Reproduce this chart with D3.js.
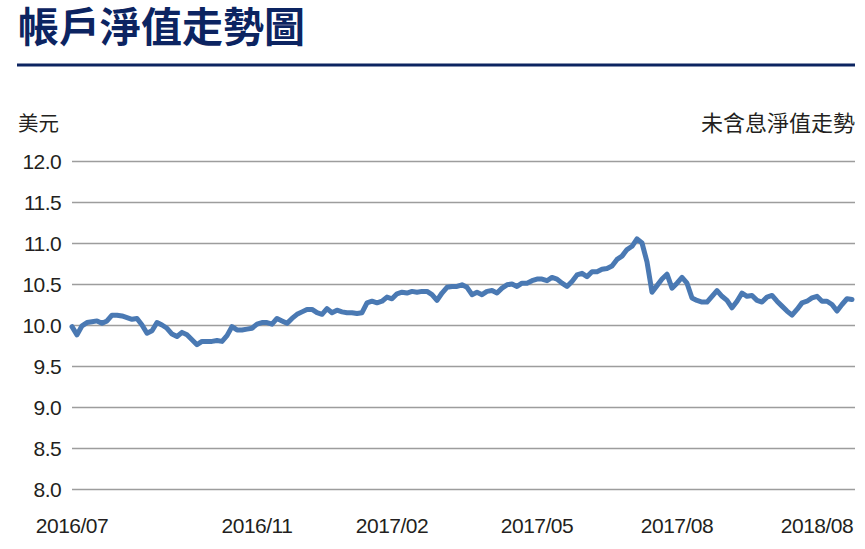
<!DOCTYPE html>
<html><head><meta charset="utf-8">
<script src="https://cdn.jsdelivr.net/npm/d3@7"></script>
<style>
html,body{margin:0;padding:0;background:#fff;}
svg{display:block;}
</style>
</head><body>
<svg id="chart" width="865" height="549"></svg>
<script>
const title = "帳戶淨值走勢圖";
const unitLabel = "美元";
const seriesLabel = "未含息淨值走勢";
const yTicks = [8.0, 8.5, 9.0, 9.5, 10.0, 10.5, 11.0, 11.5, 12.0];
const xLabels = ["2016/07", "2016/11", "2017/02", "2017/05", "2017/08", "2018/08"];
const xLabelIndex = [0, 37, 64, 93, 121, 149];
const navValues = [
 9.98, 9.88, 9.99, 10.03, 10.04, 10.05, 10.02, 10.05, 10.12, 10.12,
 10.11, 10.09, 10.07, 10.08, 10.00, 9.90, 9.93, 10.03, 10.00, 9.96,
 9.89, 9.86, 9.91, 9.88, 9.82, 9.76, 9.80, 9.80, 9.80, 9.81,
 9.80, 9.87, 9.98, 9.94, 9.94, 9.95, 9.96, 10.01, 10.03, 10.03,
 10.01, 10.08, 10.05, 10.02, 10.08, 10.13, 10.16, 10.19, 10.19, 10.15,
 10.13, 10.20, 10.15, 10.18, 10.16, 10.15, 10.15, 10.14, 10.15, 10.27,
 10.29, 10.27, 10.29, 10.34, 10.32, 10.38, 10.40, 10.39, 10.41, 10.40,
 10.41, 10.41, 10.37, 10.30, 10.39, 10.46, 10.47, 10.47, 10.49, 10.46,
 10.37, 10.40, 10.37, 10.41, 10.42, 10.39, 10.45, 10.49, 10.50, 10.47,
 10.51, 10.51, 10.54, 10.56, 10.56, 10.54, 10.58, 10.56, 10.51, 10.47,
 10.53, 10.61, 10.63, 10.59, 10.65, 10.65, 10.68, 10.69, 10.72, 10.80,
 10.84, 10.92, 10.96, 11.05, 11.00, 10.77, 10.40, 10.48, 10.56, 10.62,
 10.45, 10.51, 10.58, 10.51, 10.33, 10.30, 10.28, 10.28, 10.35, 10.42,
 10.35, 10.30, 10.21, 10.29, 10.39, 10.35, 10.36, 10.30, 10.28, 10.34,
 10.36, 10.29, 10.23, 10.17, 10.12, 10.19, 10.27, 10.29, 10.33, 10.35,
 10.29, 10.29, 10.25, 10.17, 10.25, 10.32, 10.31
];

const svg = d3.select("#chart");
const navy = "#0c2461";
const cjk = "'Noto Sans CJK TC','Noto Sans CJK SC',sans-serif";

// Title and rule
svg.append("text")
  .attr("x", 18).attr("y", 42)
  .attr("font-family", cjk)
  .attr("font-weight", 700).attr("font-size", 41)
  .attr("fill", navy).text(title);
svg.append("line")
  .attr("x1", 17).attr("x2", 855).attr("y1", 65).attr("y2", 65)
  .attr("stroke", navy).attr("stroke-width", 3);

const plotLeft = 72, plotRight = 855;
const y = d3.scaleLinear().domain([8, 12]).range([489, 161]);
const x = d3.scaleLinear().domain([0, navValues.length - 1]).range([72, 852]);

// Unit labels
svg.append("text").attr("x", 18).attr("y", 131)
  .attr("font-family", cjk).attr("font-size", 20.5).attr("fill", "#231f20").text(unitLabel);
svg.append("text").attr("x", 855).attr("y", 131).attr("text-anchor", "end")
  .attr("font-family", cjk).attr("font-size", 22).attr("fill", "#231f20").text(seriesLabel);

// Y axis grid + labels
const yAxis = d3.axisLeft(y).tickValues(yTicks)
  .tickSize(-(plotRight - plotLeft)).tickPadding(11)
  .tickFormat(d3.format(".1f"));
const gy = svg.append("g").attr("transform", `translate(${plotLeft},0)`).call(yAxis);
gy.select(".domain").remove();
gy.selectAll(".tick line").attr("stroke", "#9d9d9d").attr("stroke-width", 1.5);
gy.selectAll(".tick text")
  .attr("font-family", "'Liberation Sans',Arial,sans-serif")
  .attr("font-size", 21).attr("fill", "#231f20")
  .attr("letter-spacing", -0.6).attr("dy", "0.34em");

// X labels
const gx = svg.append("g");
gx.selectAll("text").data(xLabels).join("text")
  .attr("x", (d, i) => x(xLabelIndex[i]))
  .attr("y", 533)
  .attr("text-anchor", "middle")
  .attr("font-family", "'Liberation Sans',Arial,sans-serif")
  .attr("font-size", 21).attr("fill", "#231f20")
  .attr("letter-spacing", -0.5)
  .text(d => d);

// Line
const line = d3.line().x((d, i) => x(i)).y(d => y(d)).curve(d3.curveLinear);
svg.append("path").datum(navValues)
  .attr("d", line).attr("fill", "none")
  .attr("stroke", "#4a79b3").attr("stroke-width", 5)
  .attr("stroke-linejoin", "round").attr("stroke-linecap", "round");
</script>
</body></html>
